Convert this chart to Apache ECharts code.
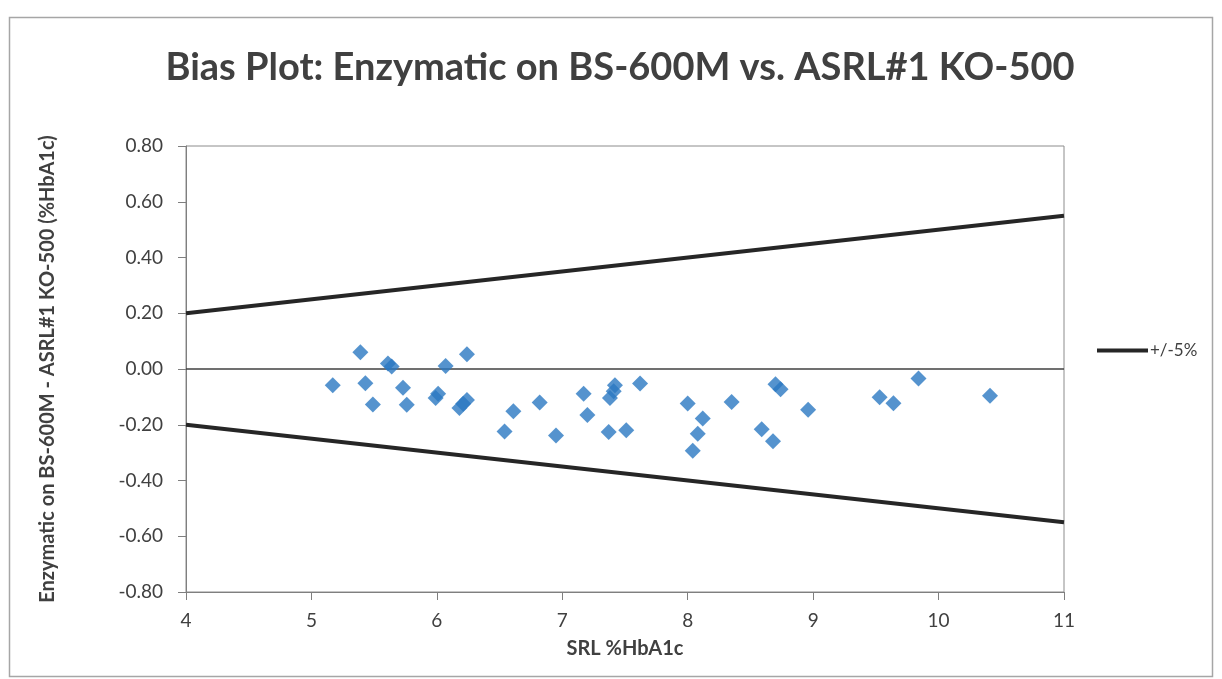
<!DOCTYPE html>
<html>
<head>
<meta charset="utf-8">
<title>Bias Plot</title>
<script src="https://cdn.jsdelivr.net/npm/echarts@6/dist/echarts.min.js"></script>
<style>
  html, body { margin: 0; padding: 0; background: #fff; }
  #chart { width: 1222px; height: 679px; }
</style>
</head>
<body>
<div id="chart"></div>
<script>
// SRL %HbA1c (x) and bias, enzymatic minus ASRL#1 (y)
const srlValues = [
  5.17, 5.39, 5.43, 5.49, 5.61, 5.64, 5.73, 5.76, 5.99, 6.01,
  6.07, 6.18, 6.21, 6.24, 6.24, 6.54, 6.61, 6.82, 6.95, 7.17,
  7.20, 7.37, 7.38, 7.41, 7.42, 7.51, 7.62, 8.00, 8.04, 8.08,
  8.12, 8.35, 8.59, 8.68, 8.70, 8.74, 8.96, 9.53, 9.64, 9.84,
  10.41
];
const biasValues = [
  -0.058, 0.060, -0.051, -0.127, 0.020, 0.009, -0.067, -0.128, -0.104, -0.089,
  0.011, -0.140, -0.125, -0.111, 0.053, -0.224, -0.152, -0.120, -0.239, -0.089,
  -0.165, -0.226, -0.104, -0.080, -0.058, -0.220, -0.052, -0.124, -0.293, -0.232,
  -0.178, -0.118, -0.216, -0.259, -0.055, -0.073, -0.146, -0.101, -0.123, -0.034,
  -0.096
];

// +/-5% limit lines
const limitX = [4, 11];
const upperLimit = [0.20, 0.55];
const lowerLimit = [-0.20, -0.55];
const zeroLine = [0, 0];

const xTicks = [4, 5, 6, 7, 8, 9, 10, 11];
const yTicks = [-0.8, -0.6, -0.4, -0.2, 0, 0.2, 0.4, 0.6, 0.8];

const FONT = 'Lato';
const TEXT = '#404040';

const chart = echarts.init(document.getElementById('chart'));

const pairs = (xs, ys) => xs.map((x, i) => [x, ys[i]]);

const option = {
  animation: false,
  backgroundColor: '#fff',
  title: {
    text: 'Bias Plot: Enzymatic on BS-600M vs. ASRL#1 KO-500',
    left: 615,
    top: 44,
    textAlign: 'center',
    textStyle: {
      fontFamily: FONT,
      fontSize: 38,
      fontWeight: 'bold',
      color: TEXT,
    },
  },
  legend: {
    left: 1092,
    top: 337,
    itemWidth: 51,
    itemHeight: 4,
    itemGap: 4,
    data: [{ name: '+/-5%', icon: 'rect', itemStyle: { color: '#262626' } }],
    textStyle: { fontFamily: FONT, fontSize: 17, color: TEXT, padding: [0, 0, 0, -3] },
  },
  grid: {
    left: 186,
    right: 158,
    top: 146,
    bottom: 87,
    show: true,
    borderColor: '#8c8c8c',
    borderWidth: 1,
  },
  xAxis: {
    type: 'value',
    min: xTicks[0],
    max: xTicks[xTicks.length - 1],
    interval: 1,
    name: 'SRL %HbA1c',
    nameLocation: 'middle',
    nameGap: 47,
    nameTextStyle: { fontFamily: FONT, fontSize: 20, fontWeight: 'bold', color: TEXT },
    axisLine: { show: true, onZero: false, lineStyle: { color: '#7f7f7f', width: 1 } },
    axisTick: { show: true, inside: false, length: 8, lineStyle: { color: '#7f7f7f' } },
    axisLabel: { fontFamily: FONT, fontSize: 19, color: TEXT, margin: 19 },
    splitLine: { show: false },
  },
  yAxis: {
    type: 'value',
    min: yTicks[0],
    max: yTicks[yTicks.length - 1],
    interval: 0.2,
    name: 'Enzymatic on BS-600M - ASRL#1 KO-500 (%HbA1c)',
    nameLocation: 'middle',
    nameGap: 128,
    nameTextStyle: { fontFamily: FONT, fontSize: 20, fontWeight: 'bold', color: TEXT },
    axisLine: { show: true, lineStyle: { color: '#7f7f7f', width: 1 } },
    axisTick: { show: true, inside: false, length: 8, lineStyle: { color: '#7f7f7f' } },
    axisLabel: {
      fontFamily: FONT,
      fontSize: 19,
      color: TEXT,
      margin: 23,
      formatter: (v) => v.toFixed(2),
    },
    splitLine: { show: false },
  },
  graphic: [
    {
      type: 'rect',
      shape: { x: 9.5, y: 17.5, width: 1203, height: 659 },
      style: { fill: 'none', stroke: '#a6a6a6', lineWidth: 1.5 },
      silent: true,
      z: -1,
    },
  ],
  series: [
    {
      name: 'zero',
      type: 'line',
      data: pairs(limitX, zeroLine),
      showSymbol: false,
      lineStyle: { color: '#404040', width: 1.5 },
      z: 1,
      silent: true,
    },
    {
      name: '+/-5%',
      type: 'line',
      data: pairs(limitX, upperLimit),
      showSymbol: false,
      lineStyle: { color: '#262626', width: 4 },
      itemStyle: { color: '#262626' },
      z: 2,
    },
    {
      name: '+/-5%',
      type: 'line',
      data: pairs(limitX, lowerLimit),
      showSymbol: false,
      lineStyle: { color: '#262626', width: 4 },
      itemStyle: { color: '#262626' },
      z: 2,
    },
    {
      name: 'Bias',
      type: 'scatter',
      data: pairs(srlValues, biasValues),
      symbol: 'diamond',
      symbolSize: 16,
      itemStyle: { color: '#2b78c2' },
      z: 3,
    },
  ],
};

chart.setOption(option);
window.addEventListener('resize', () => chart.resize());
</script>
</body>
</html>
